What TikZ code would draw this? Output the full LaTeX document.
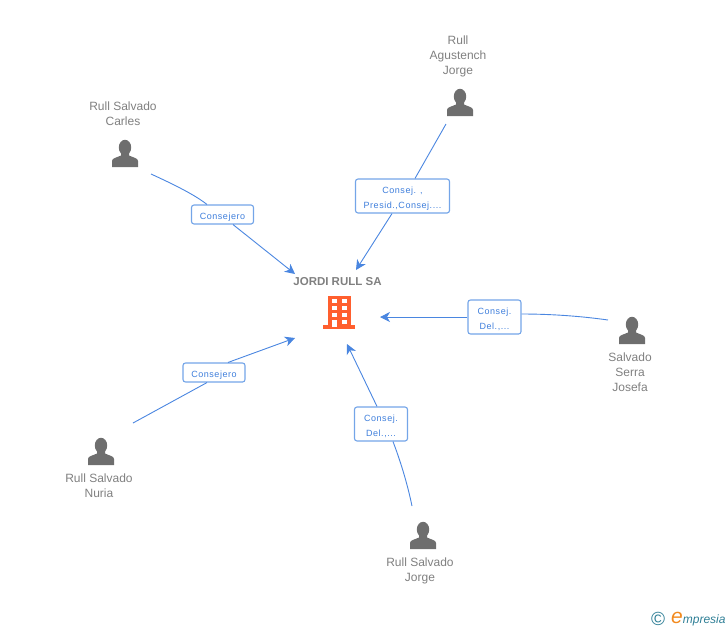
\documentclass[tikz,border=0pt]{standalone}
\usepackage{fontspec}
\setmainfont{Liberation Sans}
\usetikzlibrary{arrows.meta}
\definecolor{edgeblue}{HTML}{4A86E0}
\definecolor{boxblue}{HTML}{74A5E8}
\definecolor{labelblue}{HTML}{3F7FDC}
\definecolor{namegrey}{HTML}{808080}
\definecolor{icongrey}{HTML}{6E6E6E}
\definecolor{orangeb}{HTML}{FF5F2E}
\definecolor{logoblue}{HTML}{2F7F96}
\definecolor{logoorange}{HTML}{F28A1E}
\tikzset{
 x=1pt,y=-1pt,
 namelabel/.style={font=\fontsize{12}{15}\selectfont,text=namegrey,align=center,inner sep=0pt},
 rolebox/.style={draw=boxblue,line width=1.1pt,rounded corners=2.5pt,fill=white,text=labelblue,align=center,inner sep=0pt,font=\fontsize{9}{15}\selectfont\addfontfeatures{LetterSpace=6}},
 roleone/.style={rolebox,minimum width=62pt,minimum height=19pt,text height=11pt},
 roletwo/.style={rolebox,minimum height=34pt,text height=26pt},
 link/.style={draw=edgeblue,line width=0.9pt},
 arrowlink/.style={link,-{Stealth[length=10pt,width=10pt,inset=3pt]}},
 person/.pic={
  \fill[icongrey] (0,-5.5) ellipse (6.2 and 7.7);
  \fill[icongrey] (-13,14) -- (-13,8) .. controls (-13,5) and (-8,4.5) .. (-4,2.5) -- (-4,-1) -- (4,-1) -- (4,2.5) .. controls (8,4.5) and (13,5) .. (13,8) -- (13,14) -- cycle;
 }
}
\begin{document}
\begin{tikzpicture}
\useasboundingbox (0,0) rectangle (728,630);
% central company
\node[font=\bfseries\fontsize{11.5}{14}\selectfont,text=namegrey,inner sep=0pt] (company) at (337.5,282) {JORDI RULL SA};
\fill[orangeb] (328,296) rectangle (351,325);
\fill[orangeb] (323,325) rectangle (355,329);
\foreach \yy in {299,306,313}{
 \fill[white] (332,\yy) rectangle (337,\yy+4);
 \fill[white] (342,\yy) rectangle (347,\yy+4);
}
\fill[white] (332,319.5) rectangle (337,327);
\fill[white] (342,319.5) rectangle (347,323.5);
\coordinate (c1) at (295,274);
\coordinate (c2) at (356,270);
\coordinate (c3) at (380,317);
\coordinate (c4) at (295,338);
\coordinate (c5) at (347,344);
% persons
\pic at (125,153) {person};
\pic at (460,102) {person};
\pic at (632,330) {person};
\pic at (101,451) {person};
\pic at (423,535) {person};
\node[namelabel] (n1) at (123,113.5) {Rull Salvado\\Carles};
\node[namelabel] (n2) at (458,56.5) {Rull\\Agustench\\Jorge};
\node[namelabel] (n3) at (630,372) {Salvado\\Serra\\Josefa};
\node[namelabel] (n4) at (99,485.5) {Rull Salvado\\Nuria};
\node[namelabel] (n5) at (420,570.5) {Rull Salvado\\Jorge};
\coordinate (s1) at (151,174);
\coordinate (s2) at (446,124);
\coordinate (s3) at (608,320);
\coordinate (s4) at (133,423);
\coordinate (s5) at (412,506);
% role boxes
\node[roleone] (r1) at (222.5,214.5) {Consejero};
\node[roletwo,minimum width=94pt] (r2) at (402.5,196) {Consej. ,\\Presid.,Consej....};
\node[roletwo,minimum width=53pt] (r3) at (494.5,317) {Consej.\\Del.,...};
\node[roleone] (r4) at (214,372.5) {Consejero};
\node[roletwo,minimum width=53pt] (r5) at (381,424) {Consej.\\Del.,...};
% connectors
\draw[link] (s1) .. controls (175,185) and (195,195) .. (r1.north -| 207,0);
\draw[arrowlink] (r1.south -| 233,0) -- (c1);
\draw[link] (s2) -- (r2.north -| 415,0);
\draw[arrowlink] (r2.south -| 392,0) -- (c2);
\draw[link] (s3) .. controls (580,316) and (550,314) .. (r3.east |- 0,314);
\draw[arrowlink] (r3.west) -- (c3);
\draw[link] (s4) -- (r4.south -| 207,0);
\draw[arrowlink] (r4.north -| 228,0) -- (c4);
\draw[link] (s5) .. controls (407,482) and (400,460) .. (r5.south -| 393,0);
\draw[arrowlink] (r5.north -| 377,0) -- (c5);
% logo
\node[text=logoblue,font=\fontsize{19}{19}\selectfont,inner sep=0pt] (copy) at (658,619) {©};
\node[anchor=west,inner sep=0pt,font=\itshape\fontsize{12}{14}\selectfont,text=logoblue] (logo) at (671,619) {{\fontsize{21}{21}\selectfont\color{logoorange}e}mpresia};
\end{tikzpicture}
\end{document}
